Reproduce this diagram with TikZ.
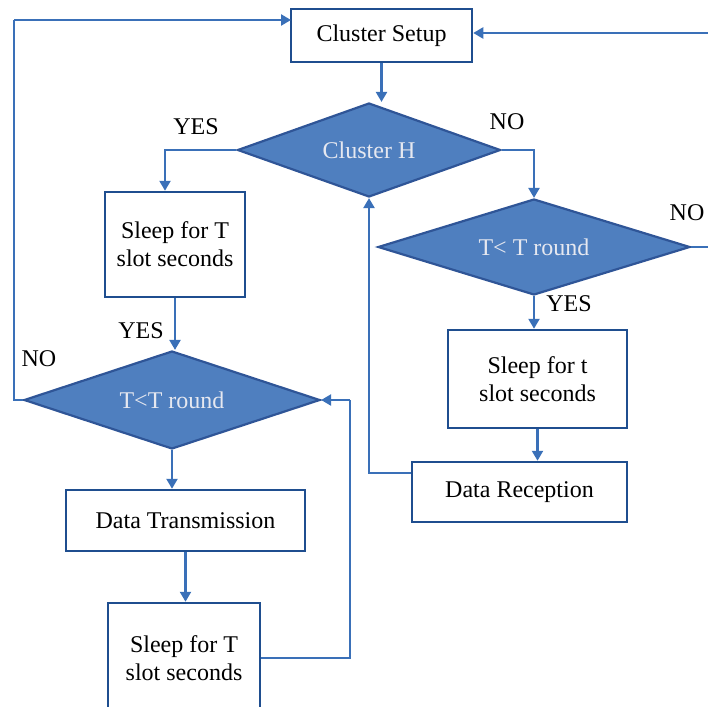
\documentclass[tikz,border=0pt]{standalone}
\usepackage{fontspec}
\setmainfont{Liberation Serif}
\usetikzlibrary{shapes.geometric,arrows.meta}
\definecolor{lineblue}{HTML}{3A70B8}
\definecolor{boxblue}{HTML}{1F4E8F}
\definecolor{dfill}{HTML}{4F7FBF}
\definecolor{dedge}{HTML}{2F5597}
\definecolor{dtext}{HTML}{E6E8F0}
\tikzset{
  box/.style={draw=boxblue, line width=2.5pt, fill=white, inner sep=0pt, align=center,
    font=\fontsize{24}{28}\selectfont},
  dec/.style={diamond, draw=dedge, line width=2.2pt, fill=dfill, inner sep=0pt,
    text=dtext, font=\fontsize{24}{28}\selectfont},
  arr/.style={draw=lineblue, line width=2.3pt, -{Triangle[width=11pt,length=10pt]}},
  ln/.style={draw=lineblue, line width=2.3pt},
  lbl/.style={font=\fontsize{24}{28}\selectfont, inner sep=0pt}
}
\begin{document}
\begin{tikzpicture}[x=1pt,y=-1pt]
\clip (0,0) rectangle (708,706);
% nodes
\node[box, minimum width=181pt, minimum height=53pt] (cs) at (381.5,35.5) {Cluster Setup};
\node[dec, aspect=2.8, minimum width=263pt, minimum height=94pt] (ch) at (369,150) {Cluster H};
\node[dec, aspect=3.25, minimum width=312pt, minimum height=96pt] (dr) at (534,247) {T< T round};
\node[box, minimum width=140pt, minimum height=105pt] (s1) at (175,244.5) {Sleep for T\\slot seconds};
\node[box, minimum width=179pt, minimum height=98pt] (s2) at (537.5,379) {Sleep for t\\slot seconds};
\node[box, minimum width=215pt, minimum height=60pt] (dre) at (519.5,492) {Data Reception};
\node[dec, aspect=3.0, minimum width=296pt, minimum height=98pt] (dl) at (172,400) {T<T round};
\node[box, minimum width=239pt, minimum height=61pt] (dt) at (185.5,520.5) {Data Transmission};
\node[box, minimum width=152pt, minimum height=110pt] (s3) at (184,658) {Sleep for T\\slot seconds};
% labels
\node[lbl] (yes1) at (196,127) {YES};
\node[lbl] (no1) at (507,122) {NO};
\node[lbl] (no2) at (687,213) {NO};
\node[lbl] (yes2) at (569,304) {YES};
\node[lbl] (yes3) at (141,331) {YES};
\node[lbl] (no3) at (39,359) {NO};
% coordinates
\coordinate (lc) at (14,20);
\coordinate (csin) at (291,20);
\coordinate (rc) at (714,33);
\coordinate (rb) at (350,400);
% connectors
\draw[arr] (cs.south) -- (cs.south |- ch.north);
\draw[arr] (ch.west) -| ([xshift=-10pt]s1.north);
\draw[arr] (ch.east) -| (dr.north);
\draw[ln] (dr.east) -- (dr.east -| rc) -- (rc);
\draw[arr] (rc) -- (cs.east |- rc);
\draw[arr] (dr.south) -- (dr.south |- s2.north);
\draw[arr] (s2.south) -- (s2.south |- dre.north);
\draw[arr] ([yshift=19pt]dre.west) -| (ch.south);
\draw[arr] (s1.south) -- (s1.south |- dl.north);
\draw[ln] (dl.west) -| (lc);
\draw[arr] (lc) -- (csin);
\draw[arr] (dl.south) -- (dl.south |- dt.north);
\draw[arr] (dt.south) -- (dt.south |- s3.north);
\draw[ln] (s3.east) -| (rb);
\draw[arr] (rb) -- (dl.east);
\end{tikzpicture}
\end{document}
